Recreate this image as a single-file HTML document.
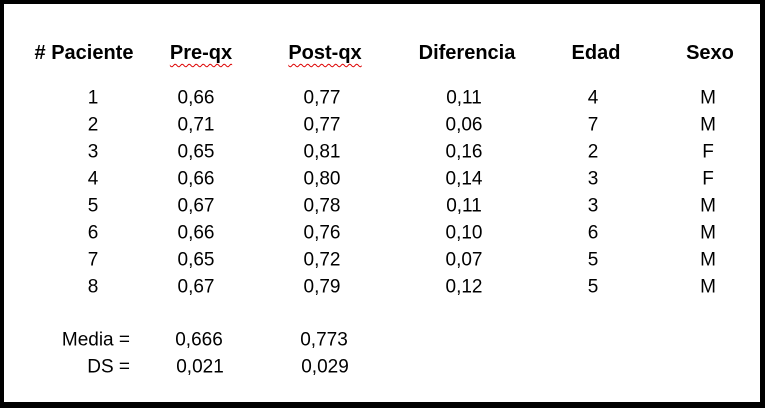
<!DOCTYPE html>
<html><head><meta charset="utf-8"><style>
body{margin:0;width:765px;height:408px;background:#fff;overflow:hidden}
#f{position:absolute;left:0;top:0;width:765px;height:408px;box-sizing:border-box;border-style:solid;border-color:#000;border-width:4px 5px 6px 4px}
.t{position:absolute;font-family:"Liberation Sans",sans-serif;font-size:19px;color:#000;transform:translate(-50%,-50%);white-space:nowrap;line-height:1}
.h{font-weight:bold;font-size:20px}
.sq{text-decoration:underline wavy #d00;text-decoration-thickness:1px;text-underline-offset:4px}
.r{transform:translate(-100%,-50%)}
</style></head><body><div id="f"></div>
<div class="t h" style="left:84px;top:53px"># Paciente</div>
<div class="t h sq" style="left:201px;top:53px">Pre-qx</div>
<div class="t h sq" style="left:325px;top:53px">Post-qx</div>
<div class="t h" style="left:467px;top:53px">Diferencia</div>
<div class="t h" style="left:596px;top:53px">Edad</div>
<div class="t h" style="left:710px;top:53px">Sexo</div>
<script>
var d=[[1,"0,66","0,77","0,11",4,"M"],[2,"0,71","0,77","0,06",7,"M"],[3,"0,65","0,81","0,16",2,"F"],[4,"0,66","0,80","0,14",3,"F"],[5,"0,67","0,78","0,11",3,"M"],[6,"0,66","0,76","0,10",6,"M"],[7,"0,65","0,72","0,07",5,"M"],[8,"0,67","0,79","0,12",5,"M"]];
var xs=[93,196,322,464,593,708],h="";
d.forEach(function(r,i){var y=98+27*i;r.forEach(function(v,j){h+='<div class="t" style="left:'+xs[j]+'px;top:'+y+'px">'+v+'</div>'});});
h+='<div class="t r" style="left:130px;top:340px">Media =</div><div class="t" style="left:199px;top:340px">0,666</div><div class="t" style="left:324px;top:340px">0,773</div>';
h+='<div class="t r" style="left:130px;top:367px">DS =</div><div class="t" style="left:200px;top:367px">0,021</div><div class="t" style="left:325px;top:367px">0,029</div>';
document.write(h);
</script>
</body></html>
